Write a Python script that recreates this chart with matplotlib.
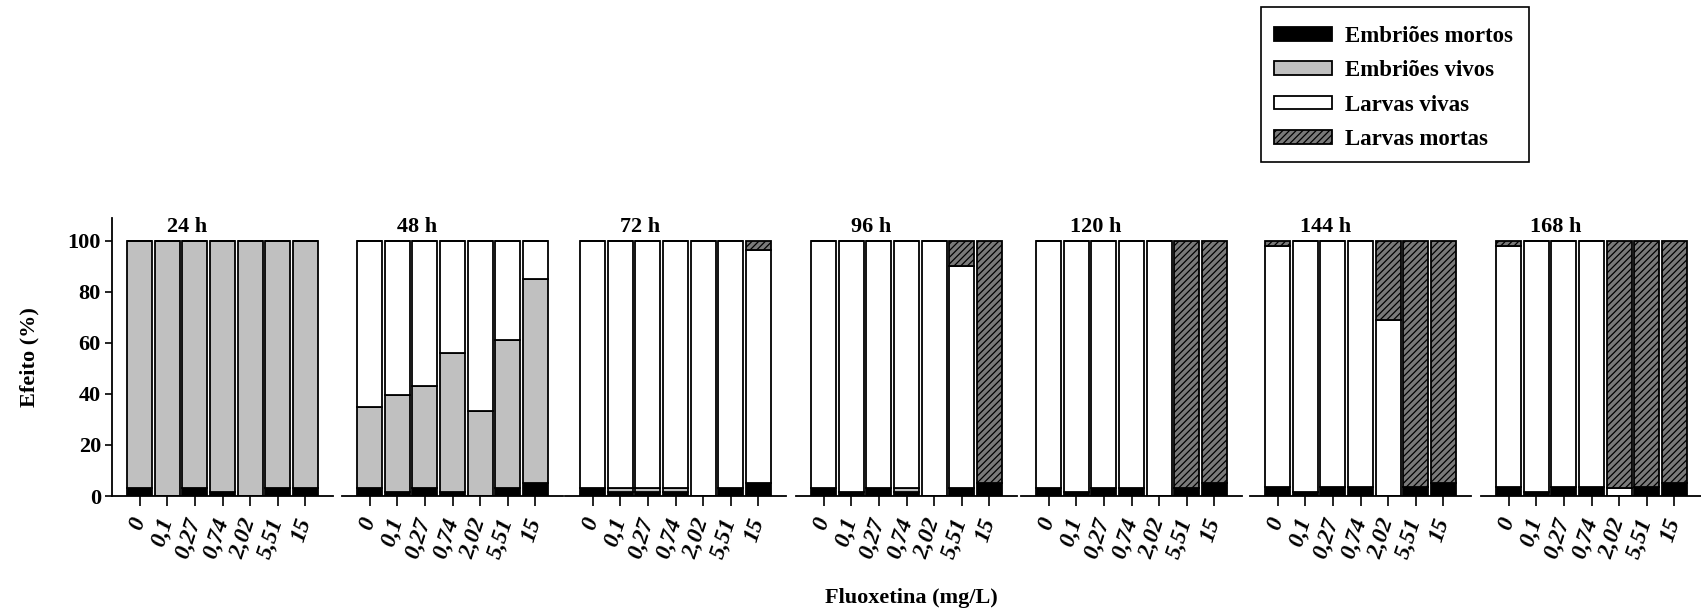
import matplotlib
matplotlib.use("Agg")
import matplotlib.pyplot as plt
from matplotlib.patches import Rectangle
import numpy as np

# Exposure times and fluoxetine concentrations (mg/L)
tempos = ["24 h", "48 h", "72 h", "96 h", "120 h", "144 h", "168 h"]
concentracoes = ["0", "0,1", "0,27", "0,74", "2,02", "5,51", "15"]

# Percentages per time (rows) and concentration (columns)
embrioes_mortos = [
    [3, 0, 3, 1.5, 0, 3, 3],
    [3, 1.5, 3, 1.5, 0, 3, 5],
    [3, 1.5, 1.5, 1.5, 0, 3, 5],
    [3, 1.5, 3, 1.5, 0, 3, 5],
    [3, 1.5, 3, 3, 0, 3, 5],
    [3.5, 1.5, 3.5, 3.5, 0, 3.5, 5],
    [3.5, 1.5, 3.5, 3.5, 0, 3.5, 5],
]
embrioes_vivos = [
    [97, 100, 97, 98.5, 100, 97, 97],
    [32, 38, 40, 54.5, 33.5, 58, 80],
    [0, 1.5, 1.5, 1.5, 0, 0, 0],
    [0, 0, 0, 1.5, 0, 0, 0],
    [0, 0, 0, 0, 0, 0, 0],
    [0, 0, 0, 0, 0, 0, 0],
    [0, 0, 0, 0, 0, 0, 0],
]
larvas_vivas = [
    [0, 0, 0, 0, 0, 0, 0],
    [65, 60.5, 57, 44, 66.5, 39, 15],
    [97, 97, 97, 97, 100, 97, 91.5],
    [97, 98.5, 97, 97, 100, 87, 0],
    [97, 98.5, 97, 97, 100, 0, 0],
    [94.5, 98.5, 96.5, 96.5, 69, 0, 0],
    [94.5, 98.5, 96.5, 96.5, 3, 0, 0],
]
larvas_mortas = [
    [0, 0, 0, 0, 0, 0, 0],
    [0, 0, 0, 0, 0, 0, 0],
    [0, 0, 0, 0, 0, 0, 3.5],
    [0, 0, 0, 0, 0, 10, 95],
    [0, 0, 0, 0, 0, 97, 95],
    [2, 0, 0, 0, 31, 96.5, 95],
    [2, 0, 0, 0, 97, 96.5, 95],
]
legenda = ["Embriões mortos", "Embriões vivos", "Larvas vivas", "Larvas mortas"]

plt.rcParams["font.family"] = ["Liberation Serif", "DejaVu Serif"]
plt.rcParams["font.weight"] = "bold"
plt.rcParams["hatch.linewidth"] = 0.9
plt.rcParams["hatch.color"] = "black"

W, H = 1701, 614
fig = plt.figure(figsize=(W / 100, H / 100), dpi=100)

estilos = [
    dict(facecolor="black", edgecolor="black"),
    dict(facecolor="#c0c0c0", edgecolor="black"),
    dict(facecolor="white", edgecolor="black"),
    dict(facecolor="#7a7a7a", edgecolor="black", hatch="/////"),
]

lefts_px = [112, 342, 565, 796, 1021, 1250, 1481]
ax_w = 221 / W
ax_b = (H - 496) / H
ax_h = (496 - 218) / H

x = np.arange(len(concentracoes))
handles = None
for i, t in enumerate(tempos):
    ax = fig.add_axes([lefts_px[i] / W, ax_b, ax_w, ax_h])
    series = [embrioes_mortos[i], embrioes_vivos[i], larvas_vivas[i], larvas_mortas[i]]
    bottom = np.zeros(len(x))
    hs = []
    for vals, st, lab in zip(series, estilos, legenda):
        vals = np.asarray(vals, dtype=float)
        b = ax.bar(x, vals, width=0.9, bottom=bottom, linewidth=1.3, label=lab, **st)
        hs.append(b)
        bottom += vals
    if handles is None:
        handles = hs
    ax.set_xlim(-1.0, 7.0)
    ax.set_ylim(0, 109)
    ax.spines["top"].set_visible(False)
    ax.spines["right"].set_visible(False)
    ax.spines["bottom"].set_linewidth(1.3)
    ax.spines["left"].set_linewidth(1.3)
    ax.set_xticks(x)
    ax.set_xticklabels(concentracoes, rotation=72, fontsize=17, fontstyle="italic",
                       fontweight="bold", ha="right", va="center",
                       rotation_mode="anchor")
    ax.tick_params(axis="x", direction="out", length=7, width=1.2, pad=9)
    ax.text(1.72, 105.5, t, ha="center", va="center", fontsize=16, fontweight="bold")
    if i == 0:
        ax.set_yticks([0, 20, 40, 60, 80, 100])
        ax.tick_params(axis="y", direction="out", length=5, width=1.2, labelsize=16, pad=3)
        ax.set_ylabel("Efeito (%)", fontsize=16, fontweight="bold", labelpad=20)
    else:
        ax.spines["left"].set_visible(False)
        ax.set_yticks([])
    ax.patch.set_visible(False)

fig.text(911 / W, 1 - 598 / H, "Fluoxetina (mg/L)", ha="center", va="center",
         fontsize=16, fontweight="bold")

# Legend entries, with a separate box drawn around them
fig.add_artist(Rectangle((1261 / W, 1 - 162 / H), 268 / W, 155 / H,
                         transform=fig.transFigure, fill=False,
                         edgecolor="black", linewidth=1.2))
fig.legend(handles, legenda, loc="upper left",
           bbox_to_anchor=(1274 / W, 1 - 26 / H), borderaxespad=0,
           fontsize=16.5, handlelength=2.55, handleheight=0.55,
           handletextpad=0.55, labelspacing=0.58, borderpad=0,
           frameon=False)

fig.savefig("out.png", dpi=100)
